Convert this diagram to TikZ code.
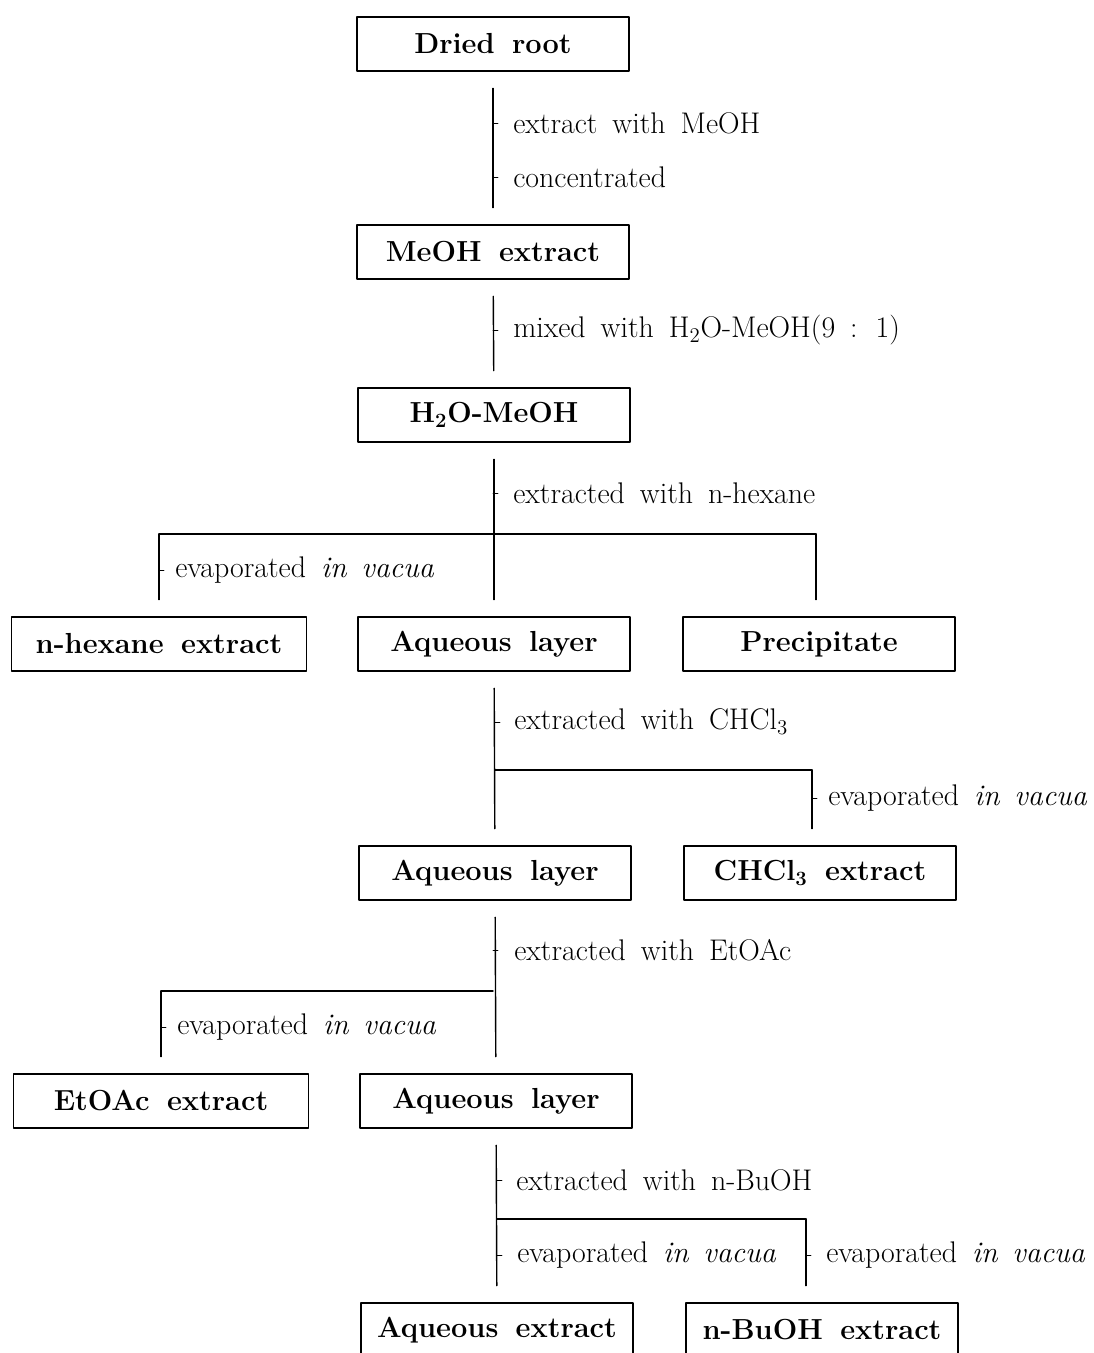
\documentclass[tikz,border=0pt]{standalone}
\newcommand\condfont{\fontsize{17}{20}\selectfont\spaceskip 0.5em\relax}
\newcommand\boxfont{\fontsize{16.5}{20}\selectfont\bfseries\spaceskip 0.6em\relax}
\begin{document}
\begin{tikzpicture}[x=0.02cm,y=-0.02cm,line cap=round,line join=round]
	\tikzset{every node/.style={font=\condfont},
		box/.style={draw,line width=1pt,minimum width=5.44cm,minimum height=1.08cm,font=\boxfont},
		wbox/.style={box,minimum width=5.9cm},
		cond/.style={anchor=west,inner sep=0pt},
		flow/.style={line width=0.8pt,shorten <=0.33cm,shorten >=0.33cm},
		link/.style={line width=0.8pt}}
	\useasboundingbox (0,0) rectangle (1093,1353);
	% boxes
	\node[box] (root) at (493,44) {Dried root};
	\node[box] (meoh) at (493,252) {MeOH extract};
	\node[box] (h2o) at (494,415) {H\textsubscript{2}O-MeOH};
	\node[wbox] (hex) at (159,644) {n-hexane extract};
	\node[box] (aq1) at (494,644) {Aqueous layer};
	\node[box] (prec) at (819,644) {Precipitate};
	\node[box] (aq2) at (495,873) {Aqueous layer};
	\node[box] (chcl) at (820,873) {CHCl\textsubscript{3} extract};
	\node[wbox] (etoac) at (161,1101) {EtOAc extract};
	\node[box] (aq3) at (496,1101) {Aqueous layer};
	\node[box] (aqex) at (497,1330) {Aqueous extract};
	\node[box] (buoh) at (822,1330) {n-BuOH extract};
	% junctions
	\coordinate (j1) at (494,534);
	\coordinate (j2) at (495,770);
	\coordinate (j3) at (493,991);
	\coordinate (j4) at (497,1219);
	\coordinate (k1) at (816,534);
	\coordinate (k2) at (812,770);
	\coordinate (k4) at (806,1219);
	% connectors
	\draw[flow] (root) -- (meoh);
	\draw[flow] (meoh) -- (h2o);
	\draw[flow] (h2o) -- (aq1);
	\draw[link] (hex.north |- j1) -- (k1);
	\draw[link,shorten >=0.33cm] (hex.north |- j1) -- (hex.north);
	\draw[link,shorten >=0.33cm] (k1) -- (k1 |- prec.north);
	\draw[flow] (aq1) -- (aq2);
	\draw[link] (j2) -- (k2);
	\draw[link,shorten >=0.33cm] (k2) -- (k2 |- chcl.north);
	\draw[flow] (aq2) -- (aq3);
	\draw[link] (j3) -- (etoac.north |- j3);
	\draw[link,shorten >=0.33cm] (etoac.north |- j3) -- (etoac.north);
	\draw[flow] (aq3) -- (aqex);
	\draw[link] (j4) -- (k4);
	\draw[link,shorten >=0.33cm] (k4) -- (k4 |- buoh.north);
	% conditions
	\node[cond] (l1) at (513,123) {extract with MeOH};
	\node[cond] (l2) at (513,177) {concentrated};
	\node[cond] (l3) at (513,330) {mixed with H\textsubscript{2}O-MeOH(9 : 1)};
	\node[cond] (l4) at (513,493) {extracted with n-hexane};
	\node[cond] (l5) at (175,570) {evaporated \textit{in vacua}};
	\node[cond] (l6) at (514,722) {extracted with CHCl\textsubscript{3}};
	\node[cond] (l7) at (828,798) {evaporated \textit{in vacua}};
	\node[cond] (l8) at (514,950) {extracted with EtOAc};
	\node[cond] (l9) at (177,1027) {evaporated \textit{in vacua}};
	\node[cond] (l10) at (516,1180) {extracted with n-BuOH};
	\node[cond] (l11) at (517,1255) {evaporated \textit{in vacua}};
	\node[cond] (l12) at (826,1255) {evaporated \textit{in vacua}};
	\foreach \n/\d in {l1/20,l2/20,l3/20,l4/20,l5/16,l6/19,l7/16,l8/21,l9/16,l10/19,l11/20,l12/20}
		\draw[thin] (\n.west) ++(-\d,0) -- ++(5,0);
\end{tikzpicture}
\end{document}
